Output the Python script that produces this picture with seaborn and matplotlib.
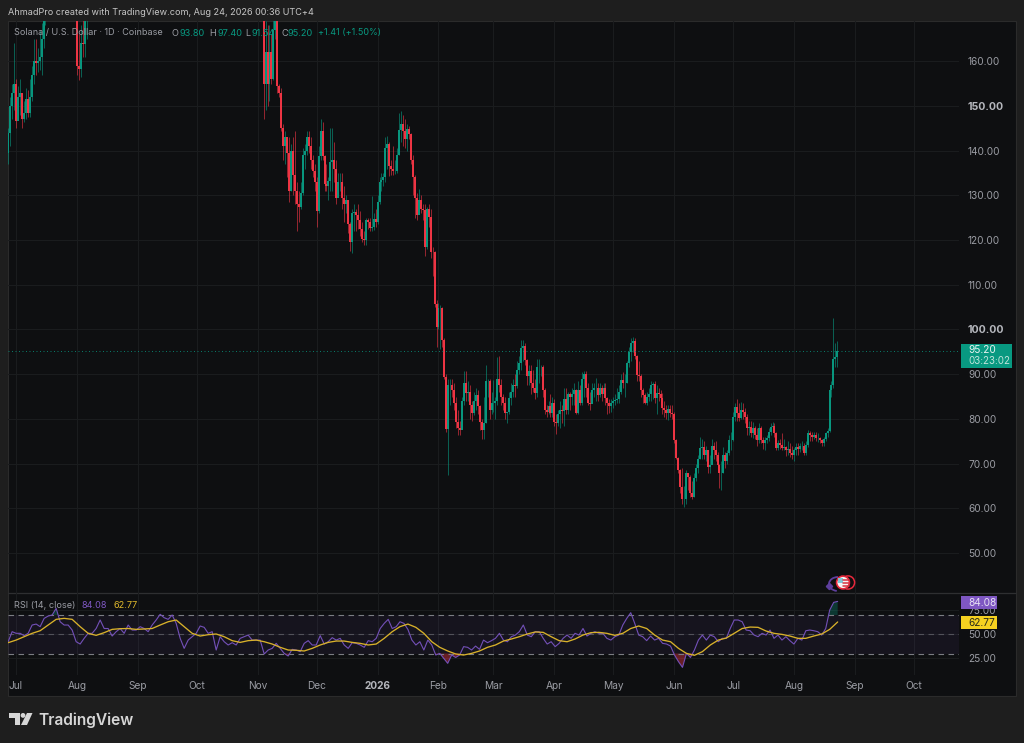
import numpy as np
import pandas as pd
import matplotlib
matplotlib.use("Agg")
import matplotlib.pyplot as plt
from matplotlib.patches import Rectangle, Circle, Polygon, Arc
import seaborn as sns

# ---------- data ----------
seg1_start, seg1_open = -4, 139.5
seg1_close = [144,150,153,155,146.6,152,153,147,148.5,151.5,148.5,152,157,160,159.7,160,161,165,170,175]
seg1_high  = [145,152,155,164,156,154.5,156,153,151,154,153.5,156,159,165,165,163,167,168.5,172,178]
seg1_low   = [137,141,147,149,145,147,148,145,146.5,147,147.5,147.5,151,155,157,157.5,158,157,163,168]

seg2_start, seg2_open = 31, 171
seg2_close = [159,158.3,164,163.8,170,175,180]
seg2_high  = [173,166,168,175,176,182,186]
seg2_low   = [157,155.7,156.5,161,161,165,173]

seg3_start, seg3_open = 126, 175
seg3_close = [154.8,162,155,162,156,167,172,154.5,153,145,141,143,139.5,131,140,134.5,131,128,127.5,130.5,
 139,140,143,141,138,135.5,133,126.5,138.8,144.5,138.8,132.5,132,133.2,137.5,138,136,129.5,133,133,
 129.5,128,129,123.5,119.5,126,126.2,125.7,124.5,122.5,120.3,120,
 124.5,124,122.8,123,124.6,124,128.5,133,133.5,134,140.5,141.5,136.5,136,135.5,135.5,139,144.6,146,144.5,142.5,
 144.8,143.8,137.9,134,129.3,125.5,129,127,126.8,118.5,127,125.2,117.4,117.3,105.8,100.6,104.7,104.7,97.6,89.4,77.8,87.5,
 87.6,86.5,83.5,79.4,77.9,77.5,83.9,88,85.8,86,83,81.3,84,85.3,82.8,79.4,77.5,79,88.4,88.5,82,83.5,83.5,84,89,87.6,85,83.5,81.3,
 81.6,84.6,86,87.6,87.3,91,92.5,95.8,96.2,93.2,89.5,90.6,88,87,85.8,91.5,91.5,91.6,86.5,82,81.6,82.8,81.3,83.5,79.4,79,81.2,
 82,81.8,84.5,82,85.5,85,85.5,86.5,81.3,86.5,83.5,89,90,87,83.5,83.3,86.5,86.8,87,85.4,87,85.5,87,84.6,83.5,82.8,83.5,84,84.2,84.4,
 86,88.8,88,88,92.5,95,96.9,97.5,94,89.8,89.5,86.5,85.4,83.5,85,85.5,87.6,87.8,84.6,85.8,85.5,84.6,82.4,82,81.3,82.2,
 81.3,81.2,75.3,71.2,68.6,64.8,62,62,67.8,67.1,63.4,62.6,66.7,69,71,73.4,73.8,72,73,69.3,69.7,74,73,72,69.7,67.8,68,72,70.5,72.3,75.3,75.3,
 80.5,82.7,81.3,80.2,82,81.6,80.5,77.9,78.2,76.8,78,76.4,75.2,78,75.3,74.7,75.2,75.7,77,78.2,78.5,76.8,73.4,74.5,74.2,73.5,73.7,73,73.2,72.4,72,
 73,73.8,73.2,74,74,72.4,74.2,76.8,76.4,76,76.5,75.8,75.8,75.2,74.7,75.5,76.8,77.2,86.5,87.6,93.5,93.8,95.2]
seg3_high = [178,169,168,168,166,172,176,178,155,154,146,144.5,143,143,141.5,143,144.5,133,131,133,
 140.5,141.5,144.5,144.5,143,139,137,134,141,147,146.5,139,137,134,145,145,142,138,135,135,
 135,132,130,129,124,127,128,127,128,126.5,124,122,
 125,125,125,129.8,126,127,130,134,135,135,143,143.2,142,138,141,138,140.5,148.5,148.8,148,147,
 146,145.5,144,139,134.5,130.5,131.5,130,128,128,127.5,128,127,118.5,117.5,106.5,106,105.5,105,98,90,89,
 89,89,88,85,82,79.5,85,90.8,90.8,88.5,87.5,84,86,87,86.5,83,80,85,92,89,89,86,88.7,85,93.8,94,89,85.5,85,
 81.6,86,88,89,90,93,94,97.7,97.7,97,93.5,92,92,91,89,93.5,93.5,92,92,87,83,84,85.5,85,84.5,81,82,
 84,83,86.9,86.8,86,86,87,88,86.6,88.5,87.5,90.5,90.6,90.8,88,86,88,88,89.2,88,88,87.5,88,88,85,84.5,84.5,85,85.5,87,
 87.5,90,90.5,90,93,96,98.2,98.3,98,94.3,93,90,87,85.8,86,87,88.5,88.2,88.5,87.5,87,86.5,85.8,84,83,83,
 83,83,81.5,75.5,71.5,68.8,69,65,68.5,68,67.5,66,68,70,72,75.9,75.5,75,74,73,72,75.5,74.8,75,72.5,70,70.5,73.8,72.5,73,76.5,77,
 81.5,83.5,84.5,83.5,83.7,83.5,82.5,81,79.5,79.5,79.3,78.5,78,79,78.5,76,76,76.5,78,79,79.3,79,77,75.3,75.5,76.8,75.5,74,75,74.5,74,
 73.5,74.5,74.5,74.5,75,74.5,75,77.5,77.3,77,77,77,76.8,76,75.5,76,77,78,87,88.5,102.5,97,97.4]
seg3_low = [147,149,150,151,155,155.8,165,153,152,144.5,138,137,134,128.5,131,130,128,122,124,127,
 130,136,139,139.5,136,134,131,123,126,138,138,131,131,129,131,131,133,128,130,131,
 127,124,126,121.5,117.5,117,122,122,122.5,121,119.5,119,
 119,122.5,122,122,122.3,123,123.5,128,131,132,133,136,134.3,134.5,134.5,134.8,135,139,142,141,140.5,
 140,142.5,137,130,125,124.5,126,126,124.5,116.5,118,123,116,112,105,96,100,95.7,96,89,77,67.5,
 83,85,82,78,76.5,76.4,78,83,84,84,80,79.5,80.8,82,81,77.5,75.5,75.6,79,85,80,81,81.5,80,83,86,83,82,80,
 79,81,83,85,85,87,90,91,93,92,87.5,87.5,85.5,86,84.5,85,88,89.5,85,81,80.5,81,80.5,80.5,78.5,76.7,78.5,
 78,79,78.5,81,81,82,83,83,81,81,83,83,85,85,83,82,83.5,85,84,84,84.8,84,85,83,81,81.3,81.5,82.5,83,83.5,
 83.5,85.5,87,85,88,91.5,93,95,93.5,88.5,88.5,85,83.5,83.3,83,84,84,84.5,83.5,81.2,84,83,81,80.5,80,79.8,
 80.5,80,74.5,71,68,63.5,61,60.2,61,64,62.5,62,62.5,66,68,71,71,71,70.5,68,68,70,71,70.5,68.5,64.5,64,68,69,70,72,73,
 75,79.5,79.5,79.5,80,80,79,76.5,76.5,76,75.7,75.5,74,74.5,74.5,73.3,73,74.5,75,76.5,77.5,76,73,73,73.3,73,73,71.8,72,71.5,71,
 70.5,72,72,72.5,73,72,72,73.8,75,75,75.5,75,74.8,74.5,74,74,75,76,77,85,87,91.5,91.54]

rsi_a = [42.3,52.7,51,51,48.6,51,59.6,60.6,57.9,66.5,68.9,70,76.9,63,59.6,59.6,54.4,42.3,39.9,45.8,51,51,56,64.8,56,56,48.2,52.7,56,51,
 59.6,54.4,54.4,57.9,56,52.7,59.6,64.8,70.7,67.2,65.5,70,61.3,45.8,35.4,44,47.5,51,58.6,57.2,51,52.7,33.7,47.5,42.3,38.9,41.3,38.9,45.8,47.5,
 49.2,44,44,44,29.6,33.7,35.4,40.6,35.4,30.2,27.5,34.4,33.7,32,40.6,43.4,38.9,38.9,48.6,39.9,42.3,46.5,44,45.8,38.9,35.4,41.3,40.6,38.9,36.5,
 43.4,42.3,45.8,56,61.3,65.5,56,57.9]
rsi_b = [63,61.3,55,44,38.9,42.3,33.7,44,38.9,28.5,30.2,25,19.9,28.5,26,28.5,37.2,36.5,33.7,37.8,34.4,44,41.3,43.4,45.8,51,44,42.3,47.5,49.2,
 52.7,59.6,49.2,47.5,52.7,52.7,45.8,39.9,42.3,37.2,40.6,45.8,49.2,45.8,51,49.2,56,48.2,51,52.7,51,51,45.8,44,47.5,49.2,59.6,66.5,72.4,61.3,
 49.2,47.5,43.4,48.2,44,45.8,40.6,39.9,37.8,28.5,21.6,15.7,30.2,26,33.7,44,49.2,44,49.2,47.5,42.3,45.8,45.8,56,64.8,64.8,63,54.4,53.7,49.2,
 47.5,51,49.2,54.4,45.8,49.2,44,47.5,43.4,39.9,45.8,44,53.7,54.4,53.7,52.7,49.2,56,75.1,83.1,84.08]
ma_a = [41.3,44,47.5,51,53.7,59.6,65.5,66.5,65.5,57.9,51,48.9,51.7,55.1,55.8,56,55.1,55.5,56,59.6,63,64.8,57.9,51,48.2,49.6,50.3,47.5,43.4,41.6,
 43.4,44,42.3,39.9,36.5,33.7,33.4,32.7,35.4,38.9,41.6,43,43,41.6,40.6,38.9,39.9,45.8,52.7]
ma_b = [57.9,60.6,57.2,51,42.3,36.5,32.7,29.6,28.5,30.2,32.7,36.5,38.9,43,45.1,47.5,50.3,52.4,52,47.5,43.4,42.3,45.1,49.2,51.7,52,51,48.9,51,56,
 58.6,56,49.2,44,42.3,35.4,30.2,28.2,32,38.9,44,46.1,51,56,57.5,57.2,53.4,51,49.9,48.2,45.8,45.8,48.2,50.3,55.1,62.77]

month_days = [0,31,62,92,123,153,184,215,243,274,304,335,365,396,427,457]
month_labels = ["Jul","Aug","Sep","Oct","Nov","Dec","2026","Feb","Mar","Apr","May","Jun","Jul","Aug","Sep","Oct"]
price_ticks = [50,60,70,80,90,100,110,120,130,140,150,160]
rsi_ticks = [25,50,75]
last_o, last_h, last_l, last_c = 93.80, 97.40, 91.54, 95.20
last_chg, last_pct = 1.41, 1.50
rsi_last, ma_last = 84.08, 62.77

# ---------- colours ----------
UP, DOWN = "#089981", "#f23645"
OUTER, PANE, GRID = "#1e1e1e", "#0e0f11", "#1a1c1e"
TXT, PURPLE, YELLOW = "#9a9ca3", "#7e57c2", "#f5d020"
FONT = ["Inter", "DejaVu Sans"]

sns.set_theme(style="dark", rc={"figure.facecolor": OUTER, "axes.facecolor": PANE})
plt.rcParams["font.family"] = FONT

W, H = 1024, 743
fig = plt.figure(figsize=(W/100, H/100), dpi=100, facecolor=OUTER)

def box(x0, y0, x1, y1, **kw):
    return fig.add_axes([x0/W, 1-y1/H, (x1-x0)/W, (y1-y0)/H], **kw)

# backdrop
bg = box(0, 0, W, H, zorder=-1); bg.set_xlim(0, W); bg.set_ylim(H, 0); bg.axis("off")
bg.add_patch(Rectangle((8, 21), 1008, 675, fc=PANE, ec="#2b2b2b", lw=0.8))
bg.plot([8, 1016], [593, 593], color="#2e2f31", lw=0.9)

# ---------- candles ----------
def frame(start, first_open, close, high, low):
    close, high, low = map(np.asarray, (close, high, low))
    opn = np.r_[first_open, close[:-1]]
    return pd.DataFrame({"day": start + np.arange(len(close)), "open": opn, "close": close, "high": high, "low": low})

cd = pd.concat([frame(seg1_start, seg1_open, seg1_close, seg1_high, seg1_low),
                frame(seg2_start, seg2_open, seg2_close, seg2_high, seg2_low),
                frame(seg3_start, seg3_open, seg3_close, seg3_high, seg3_low)], ignore_index=True)
cd["dir"] = np.where(cd["close"] >= cd["open"], "up", "down")
pal = {"up": UP, "down": DOWN}

XL = (-4.07, 479.9)
ax = box(8, 21, 959, 593); ax.set_facecolor("none")
wick = cd.melt(id_vars=["day", "dir"], value_vars=["high", "low"], value_name="price")
body = cd.melt(id_vars=["day", "dir"], value_vars=["open", "close"], value_name="price")
sns.lineplot(data=wick, x="day", y="price", hue="dir", units="day", estimator=None, palette=pal,
             lw=0.7, alpha=0.6, legend=False, ax=ax, solid_capstyle="butt", sort=False)
sns.lineplot(data=body, x="day", y="price", hue="dir", units="day", estimator=None, palette=pal,
             lw=1.4, legend=False, ax=ax, solid_capstyle="butt", sort=False)
ax.set_xlim(*XL); ax.set_ylim(41.05, 169.0)
ax.set_xticks(month_days); ax.set_xticklabels([])
ax.set_yticks(price_ticks)
ax.yaxis.tick_right()
ax.set_yticklabels([f"{p:.2f}" for p in price_ticks], fontsize=7.3, color=TXT)
for lab, p in zip(ax.get_yticklabels(), price_ticks):
    if p in (100, 150):
        lab.set_fontweight("bold"); lab.set_color("#b5b7bd"); lab.set_fontsize(7.6)
ax.tick_params(axis="y", length=0, pad=6.5)
ax.tick_params(axis="x", length=0)
ax.grid(True, color=GRID, lw=0.8); ax.set_axisbelow(True)
ax.set_xlabel(""); ax.set_ylabel("")
for s in ax.spines.values(): s.set_visible(False)
ax.axhline(last_c, color=UP, lw=0.7, ls=(0, (1, 2.6)), alpha=0.8)

# ---------- RSI ----------
ra = box(8, 593, 959, 675); ra.set_facecolor("none")
rsi_x = np.r_[-4 + np.arange(len(rsi_a))*2.036, 195.4 + np.arange(len(rsi_b))*2.025]
rsi_y = np.r_[rsi_a, rsi_b]
ma_x = np.r_[-4 + np.arange(len(ma_a))*4.072, 195.4 + np.arange(len(ma_b))*4.05]
ma_y = np.r_[ma_a, ma_b]
ra.axhspan(30, 70, color=PURPLE, alpha=0.08, lw=0)
for lv in (30, 50, 70):
    ra.axhline(lv, color="#7b7d83", lw=0.8, ls=(0, (5, 4)), alpha=1 if lv != 50 else 0.55)
ra.fill_between(rsi_x, 70, rsi_y, where=rsi_y > 70, color=UP, alpha=0.3, lw=0, interpolate=True)
ra.fill_between(rsi_x, 30, rsi_y, where=rsi_y < 30, color=DOWN, alpha=0.4, lw=0, interpolate=True)
sns.lineplot(x=rsi_x, y=rsi_y, color="#7350b8", lw=0.8, estimator=None, sort=False, ax=ra)
sns.lineplot(x=ma_x, y=ma_y, color="#d8b12a", lw=0.95, estimator=None, sort=False, ax=ra)
ra.set_xlim(*XL); ra.set_ylim(7.8, 92.8)
ra.set_xticks(month_days)
ra.set_xticklabels(month_labels, fontsize=7.3, color=TXT)
for lab, t_ in zip(ra.get_xticklabels(), month_labels):
    if t_ == "2026":
        lab.set_fontweight("bold"); lab.set_color("#b5b7bd")
ra.yaxis.tick_right()
ra.set_yticks(rsi_ticks); ra.set_yticklabels([f"{t_:.2f}" for t_ in rsi_ticks], fontsize=7.3, color=TXT)
ra.tick_params(axis="y", length=0, pad=6.5); ra.tick_params(axis="x", length=0, pad=4.5)
ra.grid(True, color=GRID, lw=0.8); ra.set_axisbelow(True)
ra.set_xlabel(""); ra.set_ylabel("")
for s in ra.spines.values(): s.set_visible(False)

# ---------- overlay: texts, tags, logo, event icon ----------
ov = box(0, 0, W, H, zorder=5); ov.set_xlim(0, W); ov.set_ylim(H, 0); ov.axis("off"); ov.patch.set_alpha(0)
def t(x, y, s, color=TXT, size=6.6, **kw):
    ov.text(x, y, s, color=color, fontsize=size, va="center", ha=kw.pop("ha", "left"), **kw)

t(8, 12.5, "AhmadPro created with TradingView.com, Aug 24, 2026 00:36 UTC+4", color="#c6c6c6", size=6.55)
t(14, 33, "Solana / U.S. Dollar · 1D · Coinbase", color=TXT, size=6.5)
for x, k in [(171, "O"), (209, "H"), (245, "L"), (281, "C")]:
    t(x, 33, k, color=TXT)
for x, v in [(179, last_o), (217, last_h), (252, last_l), (288, last_c)]:
    t(x, 33, f"{v:.2f}", color=UP)
t(318, 33, f"+{last_chg:.2f} (+{last_pct:.2f}%)", color=UP, size=6.5)

t(14, 606, "RSI (14, close)", color=TXT)
t(82, 606, f"{rsi_last:.2f}", color=PURPLE)
t(113, 606, f"{ma_last:.2f}", color="#e0b92c")

# price tag
ypx = 21 + (169.0 - last_c) / (169.0 - 41.05) * 572
ov.add_patch(Rectangle((961, ypx-7), 51, 24, fc=UP, ec="none"))
t(968, ypx-0.5, f"{last_c:.2f}", color="#e8f3f0", size=7.3)
t(968, ypx+10.5, "03:23:02", color="#bfe3da", size=7)
# RSI tags
ov.add_patch(Rectangle((961, 596), 36, 13, fc=PURPLE, ec="none"))
t(968, 602.5, f"{rsi_last:.2f}", color="#e6e0f3", size=7.3)
ov.add_patch(Rectangle((961, 616), 36, 13, fc=YELLOW, ec="none"))
t(968, 622.5, f"{ma_last:.2f}", color="#2a2a1a", size=7.3)

# logo
LC = "#d6d6d6"
ov.add_patch(Polygon([(9, 713), (19.5, 713), (19.5, 725), (14.5, 725), (14.5, 718), (9, 718)], fc=LC, ec="none"))
ov.add_patch(Circle((23, 715.4), 2.4, fc=LC, ec="none"))
ov.add_patch(Polygon([(27, 713), (32.5, 713), (27, 725), (21, 725)], fc=LC, ec="none"))
t(38, 720, "TradingView", color=LC, size=11.2, fontweight="semibold")

# event icon
ov.add_patch(Arc((838, 584), 18, 14, theta1=100, theta2=270, ec="#5e3f9e", lw=1.3))
ov.plot([829], [586], marker="D", ms=3.2, color="#5e3f9e")
ov.add_patch(Circle((848, 582.5), 6.6, fc="none", ec="#e8283c", lw=1.1))
ov.add_patch(Circle((843, 582.5), 6.4, fc="#f5f5f5", ec="#e8283c", lw=1.2))
for yy in (579.5, 582.5, 585.5):
    ov.plot([843, 848.5], [yy, yy], color="#d8323f", lw=1.1)
ov.add_patch(Rectangle((838.3, 578), 5, 5, fc="#7fc8d8", ec="none"))

fig.savefig("out.png", dpi=100, facecolor=OUTER)
